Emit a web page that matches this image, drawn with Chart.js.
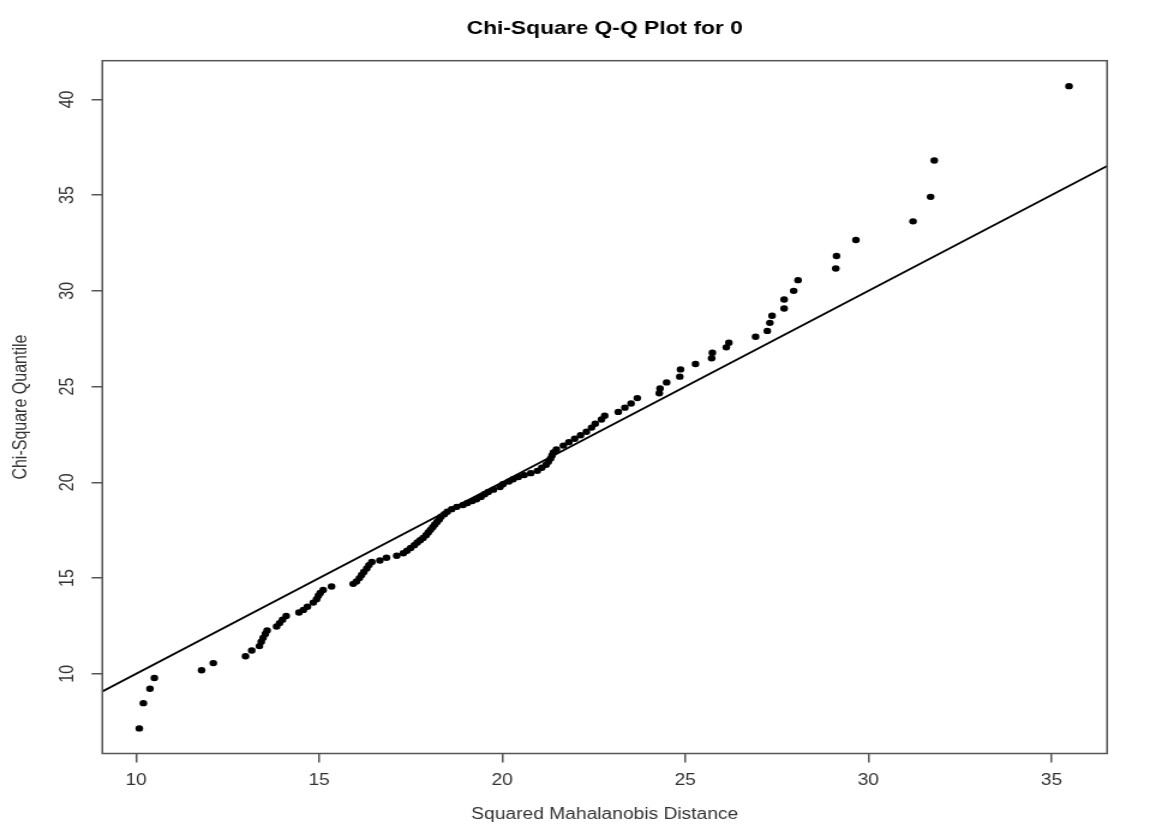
<!DOCTYPE html>
<html>
<head>
<meta charset="utf-8">
<title>Chi-Square Q-Q Plot for 0</title>
<script src="https://cdn.jsdelivr.net/npm/chart.js@4.4.1/dist/chart.umd.min.js"></script>
<style>
    html, body { margin: 0; padding: 0; background: #fff; overflow: hidden; }
    /* the original picture is stretched sideways, so draw narrow and stretch */
    #wrap { width: 963px; height: 839px; transform: scaleX(1.20042); transform-origin: 0 0; }
</style>
</head>
<body>
<div id="wrap"><canvas id="qqChart"></canvas></div>
<script>
const mahalanobis = [
    10.09, 10.20, 10.38, 10.50, 11.79, 12.11, 12.99, 13.16, 13.37, 13.42,
    13.47, 13.53, 13.58, 13.84, 13.92, 14.00, 14.10, 14.45, 14.57, 14.68,
    14.84, 14.93, 14.98, 15.03, 15.11, 15.34, 15.93, 16.02, 16.10, 16.16,
    16.22, 16.30, 16.36, 16.44, 16.66, 16.84, 17.12, 17.30, 17.40, 17.50,
    17.60, 17.68, 17.76, 17.84, 17.92, 17.98, 18.04, 18.10, 18.16, 18.22,
    18.28, 18.33, 18.42, 18.50, 18.62, 18.76, 18.93, 19.05, 19.18, 19.30,
    19.42, 19.52, 19.62, 19.76, 19.94, 20.02, 20.18, 20.30, 20.44, 20.60,
    20.78, 20.96, 21.08, 21.20, 21.26, 21.32, 21.36, 21.40, 21.48, 21.67,
    21.82, 21.98, 22.14, 22.30, 22.44, 22.54, 22.71, 22.80, 23.17, 23.35,
    23.52, 23.69, 24.29, 24.31, 24.49, 24.85, 24.87, 25.28, 25.72, 25.74,
    26.12, 26.19, 26.92, 27.24, 27.31, 27.37, 27.70, 27.70, 27.96, 28.08,
    29.11, 29.13, 29.66, 31.22, 31.70, 31.80, 35.48
];
const chiQuantile = [
    7.15, 8.47, 9.22, 9.78, 10.19, 10.56, 10.92, 11.22, 11.45, 11.68,
    11.88, 12.08, 12.26, 12.47, 12.65, 12.83, 13.02, 13.20, 13.34, 13.50,
    13.72, 13.90, 14.08, 14.22, 14.38, 14.56, 14.70, 14.82, 15.00, 15.16,
    15.32, 15.50, 15.68, 15.84, 15.92, 16.06, 16.17, 16.30, 16.43, 16.57,
    16.72, 16.86, 16.98, 17.10, 17.24, 17.38, 17.52, 17.66, 17.80, 17.93,
    18.06, 18.20, 18.34, 18.47, 18.60, 18.72, 18.82, 18.92, 19.02, 19.12,
    19.24, 19.38, 19.50, 19.62, 19.76, 19.90, 20.04, 20.16, 20.28, 20.38,
    20.48, 20.60, 20.76, 20.92, 21.08, 21.24, 21.40, 21.56, 21.72, 21.92,
    22.10, 22.28, 22.46, 22.64, 22.86, 23.06, 23.28, 23.48, 23.68, 23.90,
    24.12, 24.40, 24.65, 24.90, 25.22, 25.52, 25.90, 26.18, 26.48, 26.77,
    27.05, 27.29, 27.60, 27.91, 28.33, 28.70, 29.08, 29.55, 30.00, 30.56,
    31.17, 31.82, 32.66, 33.63, 34.91, 36.81, 40.69
];
const xTicks = [10, 15, 20, 25, 30, 35];
const yTicks = [10, 15, 20, 25, 30, 35, 40];
const xRange = [9.08, 36.52];
const yRange = [5.84, 42.02];
// reference line y = x
const abline = { intercept: 0, slope: 1 };

const fontFamily = '"Liberation Sans", Arial, sans-serif';
const axisColor = '#555';
const labelColor = '#333';

const plotLeft = 85.25;
const plotBottomGap = 85.5;

const boxAndYLabels = {
    id: 'boxAndYLabels',
    afterDraw(chart) {
        const { ctx, chartArea: a } = chart;
        const yScale = chart.scales.y;
        ctx.save();
        ctx.strokeStyle = axisColor;
        ctx.lineWidth = 1.5;
        ctx.strokeRect(a.left, a.top, a.right - a.left, a.bottom - a.top);

        ctx.fillStyle = labelColor;
        ctx.font = '16px ' + fontFamily;
        ctx.textAlign = 'center';
        ctx.textBaseline = 'middle';
        yScale.ticks.forEach(t => {
            ctx.save();
            ctx.translate(a.left - 28.3, yScale.getPixelForValue(t.value));
            ctx.rotate(-Math.PI / 2);
            ctx.fillText(String(t.value), 0, 0);
            ctx.restore();
        });
        ctx.restore();
    }
};

const puntos = mahalanobis.map((x, i) => ({ x, y: chiQuantile[i] }));
const linea = xRange.map(x => ({ x, y: abline.intercept + abline.slope * x }));

new Chart(document.getElementById('qqChart'), {
    type: 'scatter',
    data: {
        datasets: [
            {
                label: 'Puntos',
                data: puntos,
                backgroundColor: '#000',
                borderColor: '#000',
                borderWidth: 0,
                pointRadius: 3.2,
                pointHoverRadius: 3.2
            },
            {
                type: 'line',
                label: 'Linea',
                data: linea,
                borderColor: '#000',
                borderWidth: 1.8,
                pointRadius: 0,
                fill: false,
                tension: 0
            }
        ]
    },
    options: {
        responsive: true,
        maintainAspectRatio: false,
        animation: false,
        layout: { padding: { top: 0, right: 40.75, bottom: 0, left: 0 } },
        plugins: {
            legend: { display: false },
            tooltip: { enabled: false },
            title: {
                display: true,
                text: 'Chi-Square Q-Q Plot for 0',
                fullSize: false,
                color: '#000',
                font: { family: fontFamily, size: 19, weight: 'bold' },
                padding: { top: 16.9, bottom: 21 }
            }
        },
        scales: {
            x: {
                type: 'linear',
                min: xRange[0],
                max: xRange[1],
                afterBuildTicks: s => { s.ticks = xTicks.map(v => ({ value: v })); },
                afterFit: s => { s.height = plotBottomGap; },
                ticks: {
                    color: labelColor,
                    font: { family: fontFamily, size: 16 },
                    padding: 8
                },
                grid: {
                    display: true,
                    drawOnChartArea: false,
                    drawTicks: true,
                    tickLength: 9,
                    color: axisColor,
                    lineWidth: 1.5
                },
                border: { display: false },
                title: {
                    display: true,
                    text: 'Squared Mahalanobis Distance',
                    color: labelColor,
                    font: { family: fontFamily, size: 16 },
                    padding: { top: 0, bottom: 14.4 }
                }
            },
            y: {
                type: 'linear',
                min: yRange[0],
                max: yRange[1],
                afterBuildTicks: s => { s.ticks = yTicks.map(v => ({ value: v })); },
                afterFit: s => { s.width = plotLeft; },
                ticks: {
                    color: 'rgba(0,0,0,0)',
                    font: { family: fontFamily, size: 16 }
                },
                grid: {
                    display: true,
                    drawOnChartArea: false,
                    drawTicks: true,
                    tickLength: 9,
                    color: axisColor,
                    lineWidth: 1.5
                },
                border: { display: false },
                title: {
                    display: true,
                    text: 'Chi-Square Quantile',
                    color: labelColor,
                    font: { family: fontFamily, size: 16 },
                    padding: { top: 8.4, bottom: 8.4 }
                }
            }
        }
    },
    plugins: [boxAndYLabels]
});
</script>
</body>
</html>
